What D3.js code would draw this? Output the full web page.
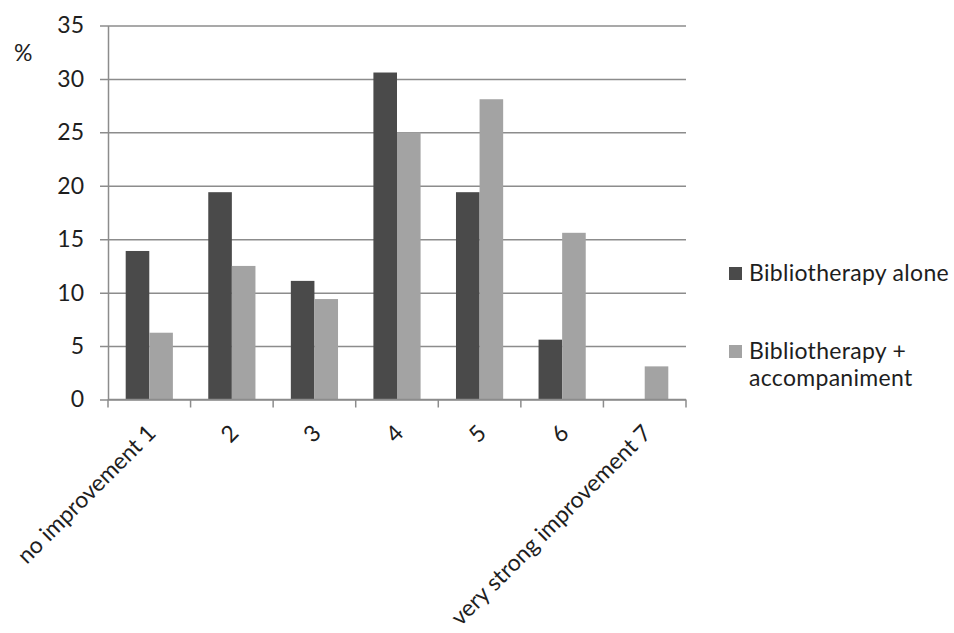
<!DOCTYPE html>
<html>
<head>
<meta charset="utf-8">
<script src="https://cdn.jsdelivr.net/npm/d3@7"></script>
<style>
  html, body { margin: 0; padding: 0; background: #fff; }
  svg { display: block; }
  text { font-family: Lato, "Open Sans", sans-serif; fill: #1e1e1e; }
</style>
</head>
<body>
<svg id="chart" width="954" height="633"></svg>
<script>
// Improvement ratings (1 = none, 7 = very strong), percentage of respondents per group
const categories = ["no improvement 1", "2", "3", "4", "5", "6", "very strong improvement 7"];
const seriesNames = ["Bibliotherapy alone", "Bibliotherapy +\naccompaniment"];
const aloneValues = [13.9, 19.4, 11.1, 30.6, 19.4, 5.6, 0];
const accompaniedValues = [6.25, 12.5, 9.4, 25, 28.1, 15.6, 3.1];
const yTicks = [0, 5, 10, 15, 20, 25, 30, 35];
const colors = ["#4a4a4a", "#a3a3a3"];

const svg = d3.select("#chart");
const plot = { left: 108, right: 686, top: 25.5, bottom: 399.5 };

const x = d3.scaleBand().domain(categories).range([plot.left, plot.right]).padding(0);
const bw = x.bandwidth();
// Two bars per category with a 150% gap between clusters
const xInner = d3.scaleBand().domain([0, 1])
  .range([bw * 0.75 / 3.5, bw * 2.75 / 3.5]).padding(0);
const y = d3.scaleLinear().domain([0, 35]).range([plot.bottom, plot.top]);

// Horizontal gridlines with short outward ticks on the value axis
const yAxis = d3.axisLeft(y).tickValues(yTicks)
  .tickSize(-(plot.right - plot.left)).tickSizeOuter(0).tickPadding(24);
const gy = svg.append("g").attr("transform", `translate(${plot.left},0)`).call(yAxis);
gy.select(".domain").attr("stroke", "#8c8c8c").attr("stroke-width", 1.5);
gy.selectAll(".tick line").attr("stroke", "#8c8c8c").attr("stroke-width", 1.5)
  .attr("x1", -8);
gy.selectAll(".tick text").attr("font-size", 23).attr("fill", "#1e1e1e")
  .attr("font-family", "Lato, sans-serif");

svg.append("text").attr("x", 14).attr("y", 61).attr("font-size", 23).text("%");

// Bars
const data = categories.map((c, i) => ({ c, vals: [aloneValues[i], accompaniedValues[i]] }));
const groups = svg.append("g").selectAll("g").data(data).join("g")
  .attr("transform", d => `translate(${x(d.c)},0)`);
groups.selectAll("rect").data(d => d.vals.map((v, k) => ({ v, k }))).join("rect")
  .attr("x", d => xInner(d.k))
  .attr("width", xInner.bandwidth())
  .attr("y", d => y(d.v))
  .attr("height", d => y(0) - y(d.v))
  .attr("fill", d => colors[d.k]);

// Category axis: baseline plus tick marks at band boundaries
const gx = svg.append("g");
gx.append("line").attr("x1", plot.left).attr("x2", plot.right)
  .attr("y1", y(0)).attr("y2", y(0)).attr("stroke", "#8c8c8c").attr("stroke-width", 1.5);
const boundaries = categories.map(c => x(c)).concat([x(categories[categories.length - 1]) + bw]);
gx.selectAll("line.tk").data(boundaries).join("line").attr("class", "tk")
  .attr("x1", d => d).attr("x2", d => d)
  .attr("y1", y(0)).attr("y2", y(0) + 8)
  .attr("stroke", "#8c8c8c").attr("stroke-width", 1.5);
gx.selectAll("text").data(categories).join("text")
  .attr("transform", d => `translate(${x(d) + bw / 2 + 8},${y(0) + 35}) rotate(-45)`)
  .attr("text-anchor", "end")
  .attr("font-size", 23)
  .text(d => d);

// Legend
const legend = svg.append("g");
const legendY = [281, 359];
seriesNames.forEach((name, i) => {
  legend.append("rect").attr("x", 729).attr("y", legendY[i] - 14)
    .attr("width", 13).attr("height", 13).attr("fill", colors[i]);
  const t = legend.append("text").attr("x", 749).attr("y", legendY[i])
    .attr("font-size", 23).attr("letter-spacing", 0.3);
  name.split("\n").forEach((line, j) => {
    t.append("tspan").attr("x", 749).attr("dy", j === 0 ? 0 : 27).text(line);
  });
});
</script>
</body>
</html>
